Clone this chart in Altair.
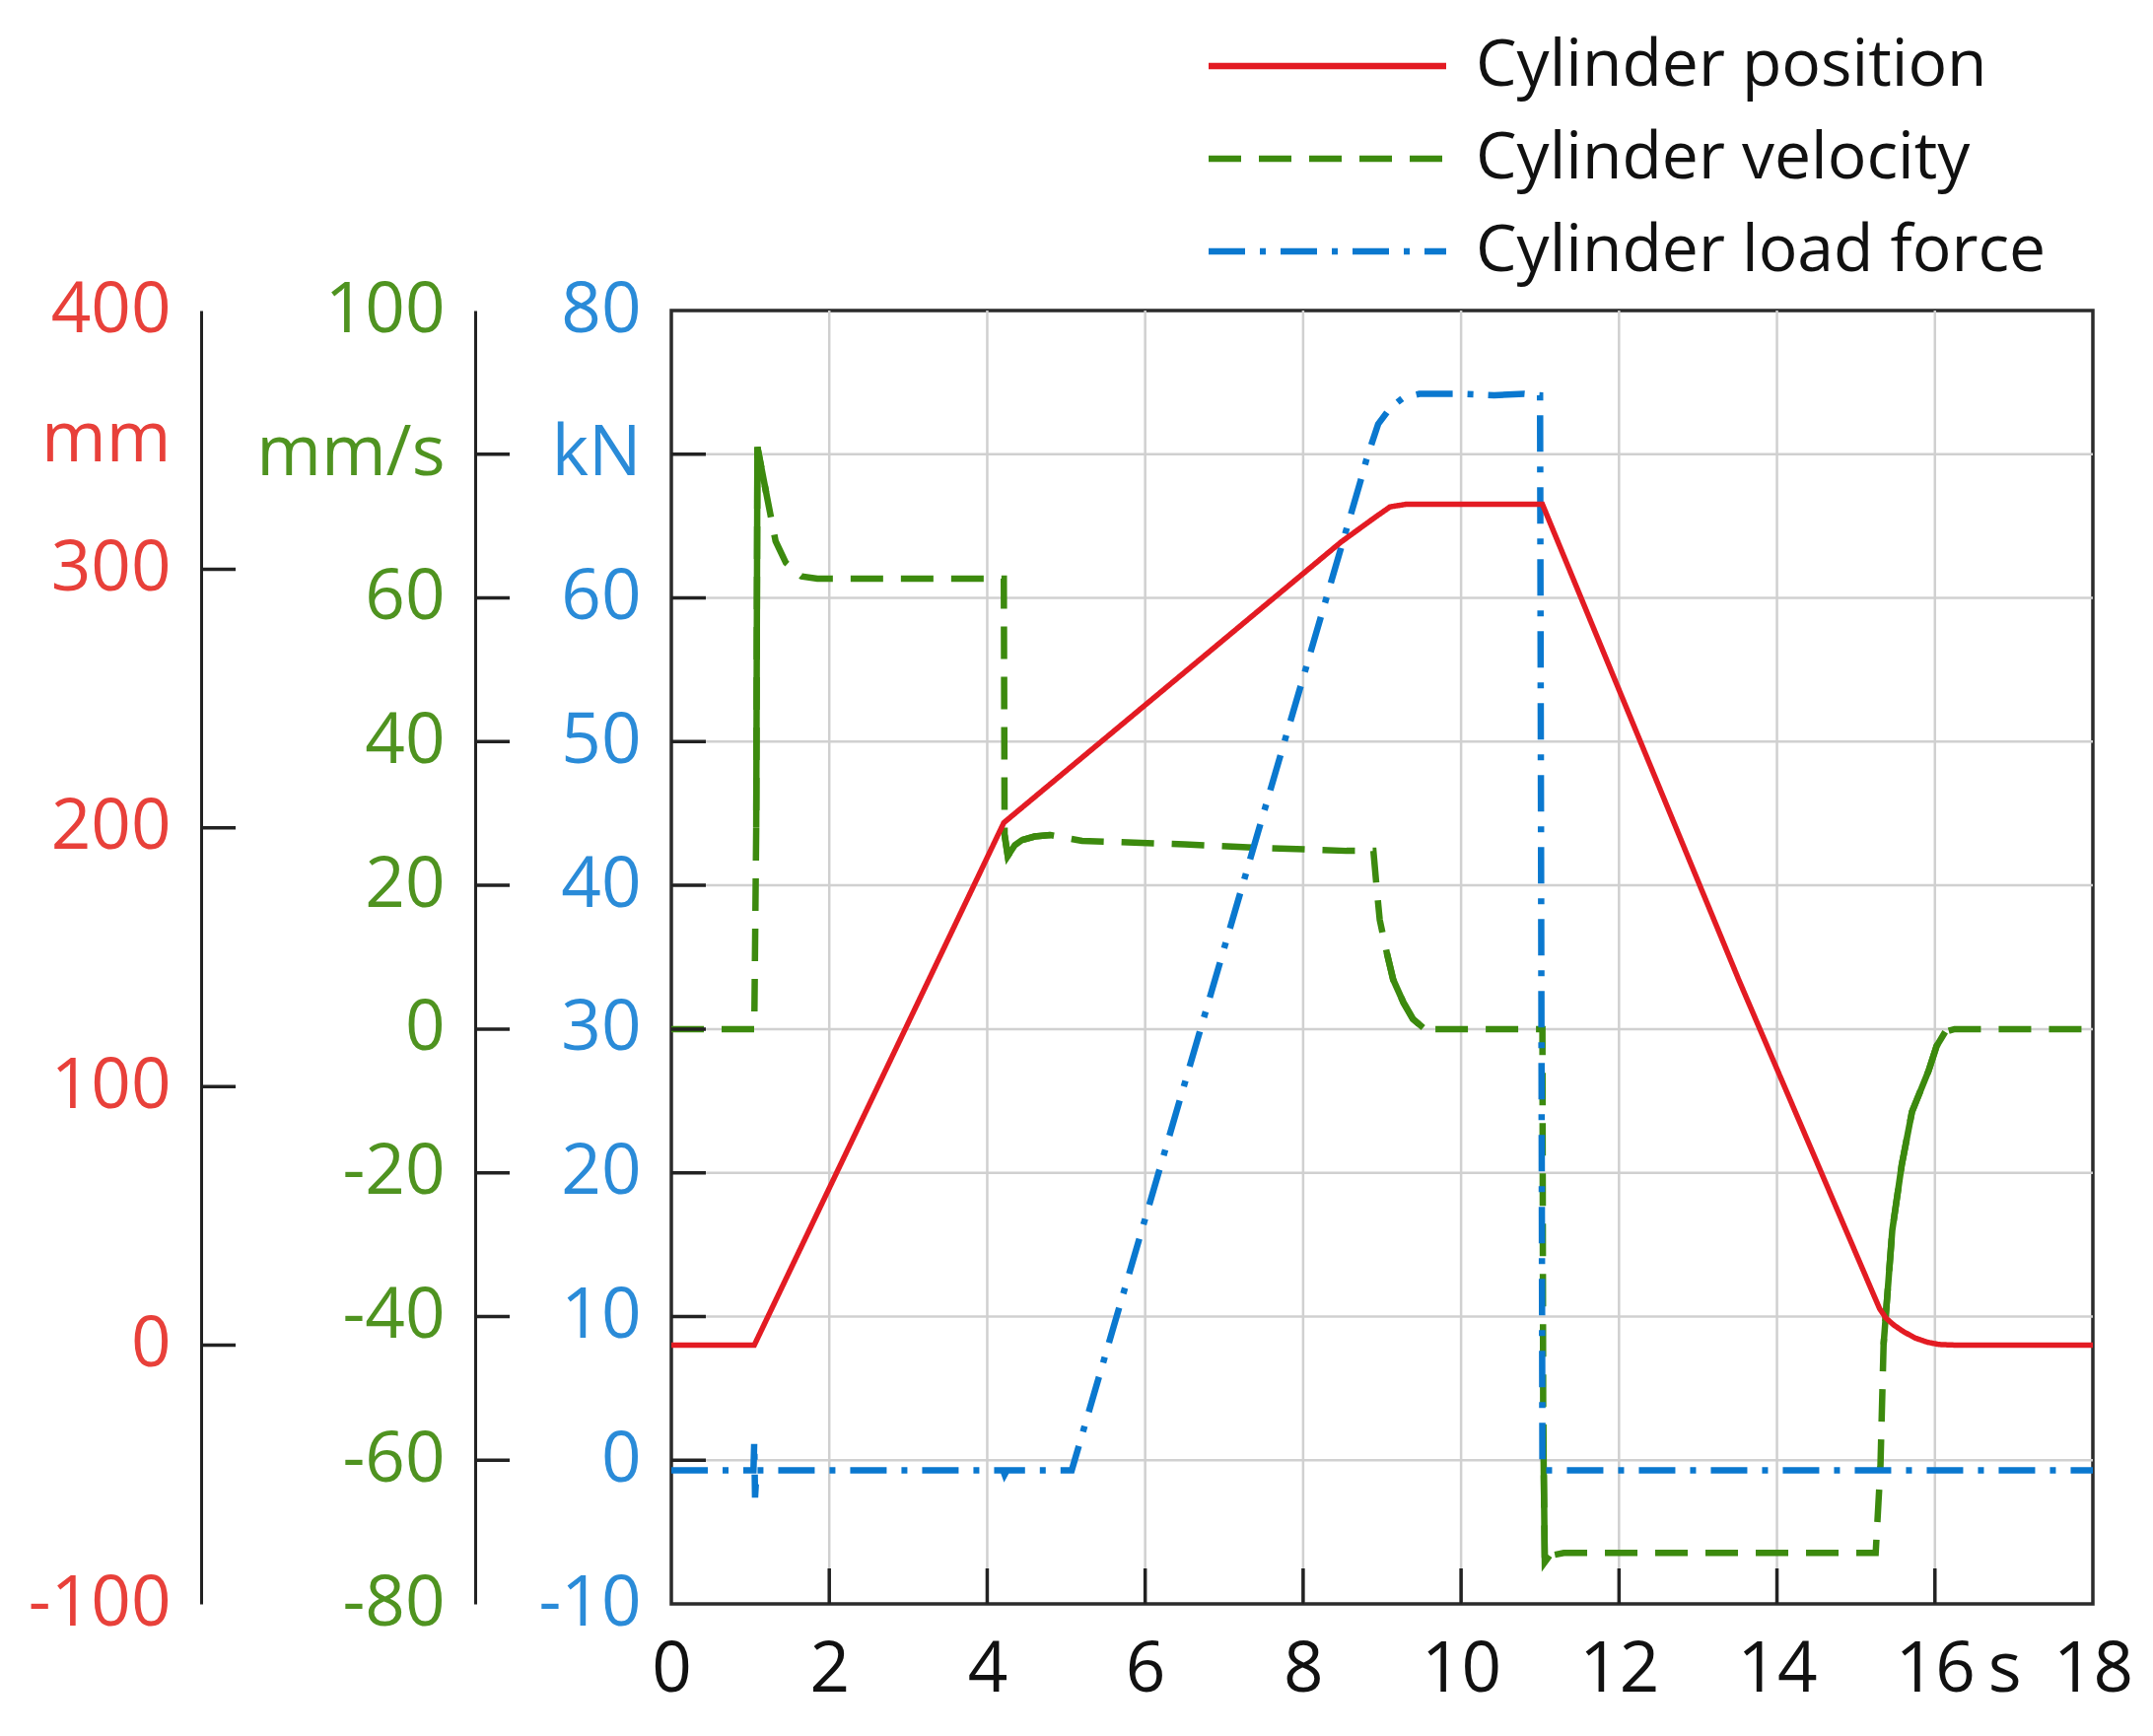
import altair as alt
import pandas as pd

# ---------------- data ----------------
series_names = ["Cylinder position", "Cylinder velocity", "Cylinder load force"]

# Cylinder position [mm] vs time [s]
pos_t = [0, 1.05, 4.21, 8.48, 8.89, 9.1, 9.3, 11.03, 13.52, 15.2, 15.3, 15.38, 15.48,
         15.6, 15.75, 15.9, 16.05, 16.3, 18]
pos_mm = [0, 0, 202, 310.5, 319.6, 324.1, 325.1, 325.1, 141, 21.2, 14.1, 10.5, 7.8,
          5.3, 2.8, 1.2, 0.3, 0, 0]

# Cylinder velocity [mm/s] vs time [s]
vel_t = [0, 1.05, 1.075, 1.09, 1.2, 1.32, 1.45, 1.65, 1.85, 4.21,
         4.22, 4.26, 4.35, 4.44, 4.6, 4.8, 5.2, 6.5, 7.3, 8.55,
         8.89, 8.93, 8.97, 9.06, 9.14, 9.27, 9.39, 9.52, 9.65, 11.03,
         11.04, 11.06, 11.12, 11.3, 15.25, 15.31, 15.35, 15.46, 15.58, 15.71,
         15.92, 16.02, 16.13, 16.25, 18]
vel_mms = [0, 0, 28, 81, 74.7, 67.9, 64.9, 63.0, 62.7, 62.7,
           27, 24.1, 25.6, 26.3, 26.8, 27.0, 26.2, 25.7, 25.3, 24.8,
           24.8, 19.8, 15.2, 10.6, 6.9, 3.7, 1.4, 0.2, 0, 0,
           -55, -74.2, -73.3, -72.9, -72.9, -60.9, -43.9, -28.0, -18.9, -11.5,
           -5.8, -2.4, -0.4, 0, 0]
# time windows where the noisy measured velocity looks like a solid stroke
vel_solid_windows = [(1.075, 1.2), (4.22, 4.8), (9.06, 9.6), (11.04, 11.12), (15.35, 16.13)]

# Cylinder load force [kN] vs time [s]
force_t = [0, 1.04, 1.05, 1.06, 1.08, 4.2, 4.22, 4.25, 5.07, 8.72,
           8.8, 8.95, 9.1, 9.26, 9.47, 10.0, 10.42, 10.8, 11.0, 11.03, 18]
force_kn = [-0.7, -0.7, 1.3, -2.6, -0.7, -0.7, -1.0, -0.7, -0.7, 68,
            69.6, 72.1, 73.2, 73.9, 74.2, 74.2, 74.1, 74.2, 74.1, -0.7, -0.7]

# axis labels / ticks
x_label_values = [0, 2, 4, 6, 8, 10, 12, 14, 16, 16.88, 18]
x_unit_value = 16.88
x_inner_ticks = [2, 4, 6, 8, 10, 12, 14, 16]
pos_label_values = [400, 350, 300, 200, 100, 0, -100]
pos_inner_ticks = [300, 200, 100, 0]
vel_label_values = [100, 80, 60, 40, 20, 0, -20, -40, -60, -80]
vel_inner_ticks = [80, 60, 40, 20, 0, -20, -40, -60]
force_label_values = [80, 70, 60, 50, 40, 30, 20, 10, 0, -10]
force_inner_ticks = [70, 60, 50, 40, 30, 20, 10, 0]

# ---------------- style ----------------
W, H = 1442, 1312
FONT = "Open Sans"
FS = 71
LEG_FS = 66
RED, GREEN, BLUE = "#e31b23", "#3c8a0e", "#0a78cf"
RED_L, GREEN_L, BLUE_L = "#e8403a", "#4f9320", "#2a8bd8"
GRID = "#d0d0d0"
INK = "#222222"

pos_df = pd.DataFrame({"t": pos_t, "v": pos_mm, "series": series_names[0]})
vel_df = pd.DataFrame({"t": vel_t, "v": vel_mms, "series": series_names[1]})
force_df = pd.DataFrame({"t": force_t, "v": force_kn, "series": series_names[2]})

solid_rows = []
for gi, (a, b) in enumerate(vel_solid_windows):
    for t, v in zip(vel_t, vel_mms):
        if a <= t <= b:
            solid_rows.append({"t": t, "v": v, "grp": gi})
vel_solid_df = pd.DataFrame(solid_rows)

x_scale = alt.Scale(domain=[0, 18], nice=False, zero=False)
pos_scale = alt.Scale(domain=[-100, 400], nice=False, zero=False)
vel_scale = alt.Scale(domain=[-80, 100], nice=False, zero=False)
force_scale = alt.Scale(domain=[-10, 80], nice=False, zero=False)

color_scale = alt.Scale(domain=series_names, range=[RED, GREEN, BLUE])
dash_scale = alt.Scale(domain=series_names, range=[[1, 0], [33, 18], [37, 15, 6, 15]])

x_axis = alt.Axis(
    values=x_label_values,
    labelExpr=f"abs(datum.value - {x_unit_value}) < 0.01 ? 's' : '' + datum.value",
    title=None, domain=False, ticks=False, tickSize=0, grid=False,
    labelFont=FONT, labelFontSize=FS, labelColor="#111111", labelPadding=32,
    labelOverlap=False, labelFlush=False, labelLimit=0,
)
x_enc = alt.X("t:Q", scale=x_scale, axis=x_axis)


def y_axis(values, unit_value, unit, color, offset, domain):
    return alt.Axis(
        values=values, orient="left", offset=offset,
        labelExpr=f"datum.value == {unit_value} ? '{unit}' : '' + datum.value",
        title=None, ticks=False, tickSize=0, grid=False,
        domain=domain, domainColor=INK, domainWidth=3,
        labelFont=FONT, labelFontSize=FS, labelColor=color, labelPadding=31,
        labelOverlap=False, labelFlush=False, labelLimit=0,
    )


pos_axis = y_axis(pos_label_values, 350, "mm", RED_L, 477, True)
vel_axis = y_axis(vel_label_values, 80, "mm/s", GREEN_L, 199, True)
force_axis = y_axis(force_label_values, 70, "kN", BLUE_L, 0, False)

color_enc = alt.Color("series:N", scale=color_scale, legend=None)
dash_enc = alt.StrokeDash("series:N", scale=dash_scale, legend=None)

# grid
x_grid = alt.Chart(pd.DataFrame({"t": x_inner_ticks})).mark_rule(
    color=GRID, strokeWidth=2.5).encode(x=x_enc)
y_grid = alt.Chart(pd.DataFrame({"f": force_inner_ticks})).mark_rule(
    color=GRID, strokeWidth=2.5).encode(y=alt.Y("f:Q", scale=force_scale, axis=None))

# series
vel_line = alt.Chart(vel_df).mark_line(strokeWidth=6.5).encode(
    x=x_enc, y=alt.Y("v:Q", scale=vel_scale, axis=vel_axis),
    color=color_enc, strokeDash=dash_enc)
vel_solid = alt.Chart(vel_solid_df).mark_line(strokeWidth=6.5, color=GREEN).encode(
    x=x_enc, y=alt.Y("v:Q", scale=vel_scale, axis=None), detail="grp:N")
force_line = alt.Chart(force_df).mark_line(strokeWidth=6.5).encode(
    x=x_enc, y=alt.Y("v:Q", scale=force_scale, axis=force_axis),
    color=color_enc, strokeDash=dash_enc)
pos_line = alt.Chart(pos_df).mark_line(strokeWidth=5.5).encode(
    x=x_enc, y=alt.Y("v:Q", scale=pos_scale, axis=pos_axis),
    color=color_enc, strokeDash=dash_enc)


# inward tick marks
def y_ticks(values, scale, x0):
    return alt.Chart(pd.DataFrame({"y": values})).mark_rule(
        color=INK, strokeWidth=3.5).encode(
        y=alt.Y("y:Q", scale=scale, axis=None),
        x=alt.value(x0), x2=alt.value(x0 + 35))


pos_ticks = y_ticks(pos_inner_ticks, pos_scale, -477)
vel_ticks = y_ticks(vel_inner_ticks, vel_scale, -199)
force_ticks = y_ticks(force_inner_ticks, force_scale, 0)
x_ticks = alt.Chart(pd.DataFrame({"t": x_inner_ticks})).mark_rule(
    color=INK, strokeWidth=3.5).encode(x=x_enc, y=alt.value(H), y2=alt.value(H - 36))

# legend (top right, above the plot)
leg_df = pd.DataFrame({"series": series_names})
leg_y = alt.Y("series:N", axis=None,
              scale=alt.Scale(type="point", domain=series_names, range=[-248, -60], padding=0))
leg_lines = alt.Chart(leg_df).mark_rule(strokeWidth=6.5).encode(
    y=leg_y, x=alt.value(545), x2=alt.value(786), color=color_enc, strokeDash=dash_enc)
leg_text = alt.Chart(leg_df).mark_text(
    align="left", baseline="middle", font=FONT, fontSize=LEG_FS, color="#111111").encode(
    y=leg_y, x=alt.value(816), text="series:N")

chart = alt.layer(
    x_grid, y_grid, vel_line, vel_solid, force_line, pos_line,
    pos_ticks, vel_ticks, force_ticks, x_ticks, leg_lines, leg_text,
).resolve_scale(y="independent").properties(
    width=W, height=H,
    autosize=alt.AutoSizeParams(type="none"),
    padding={"left": 673, "top": 307, "right": 53, "bottom": 126},
).configure_view(stroke="#2b2b2b", strokeWidth=3.5)

chart.save("out.html", embed_options={"renderer": "svg", "actions": False})
